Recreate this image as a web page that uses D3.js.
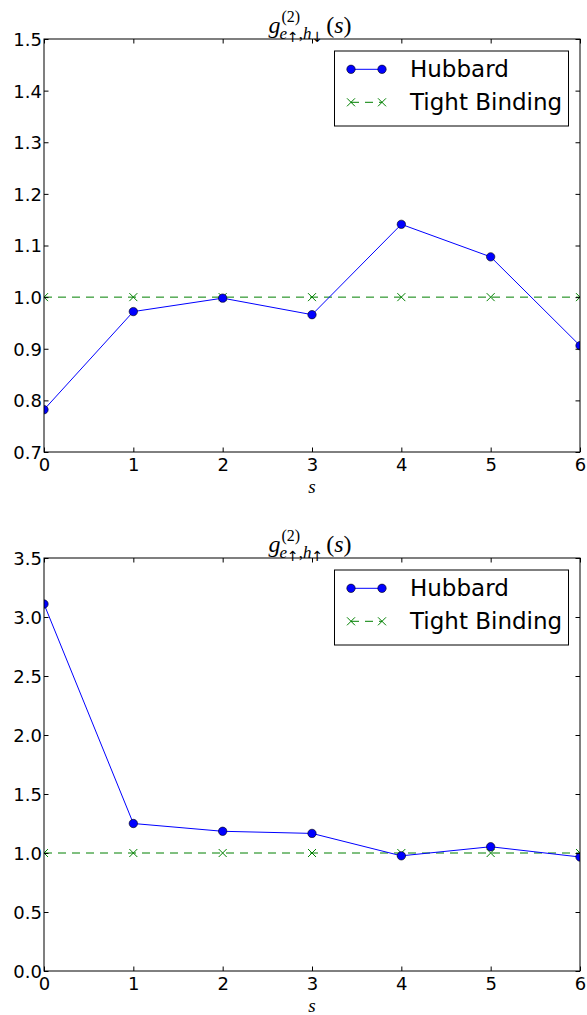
<!DOCTYPE html>
<html>
<head>
<meta charset="utf-8">
<script src="https://cdn.jsdelivr.net/npm/d3@7"></script>
<style>
html,body{margin:0;padding:0;background:#fff;}
svg{display:block;}
</style>
</head>
<body>
<svg id="chart" width="587" height="1015"></svg>
<script>
// ---- data ----
const sValues = [0, 1, 2, 3, 4, 5, 6];
const hubbardUpDown = [0.782, 0.972, 0.998, 0.966, 1.141, 1.078, 0.906];
const tightUpDown = [1, 1, 1, 1, 1, 1, 1];
const hubbardUpUp = [3.11, 1.25, 1.184, 1.166, 0.976, 1.053, 0.966];
const tightUpUp = [1, 1, 1, 1, 1, 1, 1];
const xTicks = [0, 1, 2, 3, 4, 5, 6];
const yTicksTop = [0.7, 0.8, 0.9, 1.0, 1.1, 1.2, 1.3, 1.4, 1.5];
const yTicksBottom = [0.0, 0.5, 1.0, 1.5, 2.0, 2.5, 3.0, 3.5];
const seriesNames = ["Hubbard", "Tight Binding"];

const svg = d3.select("#chart");
const left = 44, right = 580;
const BLUE = "#0000ff", GREEN = "#008000";
const sansFont = "DejaVu Sans, sans-serif";
const serifFont = "Liberation Serif, DejaVu Serif, serif";

const panels = [
  {top: 39, bottom: 452, domain: [0.7, 1.5], ticks: yTicksTop, hub: hubbardUpDown, tb: tightUpDown, arrow2: "\u2193", id: "p1"},
  {top: 558, bottom: 971, domain: [0.0, 3.5], ticks: yTicksBottom, hub: hubbardUpUp, tb: tightUpUp, arrow2: "\u2191", id: "p2"}
];

panels.forEach(p => {
  const x = d3.scaleLinear().domain([0, 6]).range([left, right]);
  const y = d3.scaleLinear().domain(p.domain).range([p.bottom, p.top]);
  const g = svg.append("g");

  g.append("defs").append("clipPath").attr("id", "clip-" + p.id)
    .append("rect").attr("x", left).attr("y", p.top)
    .attr("width", right - left).attr("height", p.bottom - p.top);

  const plot = g.append("g").attr("clip-path", `url(#clip-${p.id})`);

  const tbData = sValues.map((s, i) => [s, p.tb[i]]);
  const hubData = sValues.map((s, i) => [s, p.hub[i]]);
  const line = d3.line().x(d => x(d[0])).y(d => y(d[1]));

  plot.append("path").datum(tbData).attr("d", line)
    .attr("fill", "none").attr("stroke", GREEN).attr("stroke-width", 1)
    .attr("stroke-dasharray", "8,6");
  const xs = 4;
  plot.selectAll(".xm").data(tbData).enter().append("path")
    .attr("d", d => `M${x(d[0]) - xs},${y(d[1]) - xs}L${x(d[0]) + xs},${y(d[1]) + xs}M${x(d[0]) - xs},${y(d[1]) + xs}L${x(d[0]) + xs},${y(d[1]) - xs}`)
    .attr("stroke", GREEN).attr("stroke-width", 1).attr("fill", "none");

  plot.append("path").datum(hubData).attr("d", line)
    .attr("fill", "none").attr("stroke", BLUE).attr("stroke-width", 1);
  plot.selectAll(".cm").data(hubData).enter().append("circle")
    .attr("cx", d => x(d[0])).attr("cy", d => y(d[1])).attr("r", 4.2)
    .attr("fill", BLUE).attr("stroke", "#000").attr("stroke-width", 0.6);

  g.append("rect").attr("x", left).attr("y", p.top)
    .attr("width", right - left).attr("height", p.bottom - p.top)
    .attr("fill", "none").attr("stroke", "#000").attr("stroke-width", 1);

  const tl = 4.5;
  const yl = g.append("g").attr("transform", `translate(${left},0)`)
    .call(d3.axisLeft(y).tickValues(p.ticks).tickSize(-tl).tickPadding(2).tickFormat(d3.format(".1f")));
  const yr = g.append("g").attr("transform", `translate(${right},0)`)
    .call(d3.axisRight(y).tickValues(p.ticks).tickSize(-tl).tickFormat(""));
  const xb = g.append("g").attr("transform", `translate(0,${p.bottom})`)
    .call(d3.axisBottom(x).tickValues(xTicks).tickSize(-tl).tickPadding(6).tickFormat(d3.format("d")));
  const xt = g.append("g").attr("transform", `translate(0,${p.top})`)
    .call(d3.axisTop(x).tickValues(xTicks).tickSize(-tl).tickFormat(""));
  [yl, yr, xb, xt].forEach(a => {
    a.select(".domain").remove();
    a.selectAll("line").attr("stroke", "#000").attr("stroke-width", 1);
    a.selectAll("text").attr("font-family", sansFont).attr("font-size", 18).attr("fill", "#000");
  });
  yl.selectAll("text").attr("x", -2).attr("dy", "0.36em");
  xb.selectAll("text").attr("dy", "0.71em").attr("y", 6);

  g.append("text").attr("x", (left + right) / 2).attr("y", p.bottom + 41)
    .attr("text-anchor", "middle").attr("font-family", serifFont)
    .attr("font-style", "italic").attr("font-size", 19).text("s");

  // title
  const tg = g.append("g");
  const base = p.top - 6;
  const gt = tg.append("text").attr("x", 0).attr("y", base)
    .attr("font-family", serifFont).attr("font-style", "italic").attr("font-size", 24).text("g");
  const gw = gt.node().getComputedTextLength();
  const sup = tg.append("text").attr("x", gw + 1).attr("y", base - 11)
    .attr("font-family", serifFont).attr("font-size", 16).text("(2)");
  const sub = tg.append("text").attr("x", gw - 1).attr("y", base + 6)
    .attr("font-family", serifFont).attr("font-size", 17);
  sub.append("tspan").attr("font-style", "italic").text("e");
  sub.append("tspan").attr("font-family", "DejaVu Sans, sans-serif").attr("font-size", 14).attr("dy", 3).text("\u2191");
  sub.append("tspan").attr("dy", -3).text(",");
  sub.append("tspan").attr("font-style", "italic").text("h");
  sub.append("tspan").attr("font-family", "DejaVu Sans, sans-serif").attr("font-size", 14).attr("dy", 3).text(p.arrow2);
  const supEnd = gw + 1 + sup.node().getComputedTextLength();
  const subEnd = gw - 1 + sub.node().getComputedTextLength();
  const st = tg.append("text").attr("x", Math.max(supEnd, subEnd) + 3).attr("y", base)
    .attr("font-family", serifFont).attr("font-size", 24);
  st.append("tspan").text("(");
  st.append("tspan").attr("font-style", "italic").text("s");
  st.append("tspan").text(")");
  const bb = tg.node().getBBox();
  tg.attr("transform", `translate(${310 - (bb.x + bb.width / 2)},0)`);

  // legend
  const lx = 334.5, ly = p.top + 12, lw = 234, lh = 75;
  const lg = g.append("g");
  lg.append("rect").attr("x", lx).attr("y", ly).attr("width", lw).attr("height", lh)
    .attr("fill", "#fff").attr("stroke", "#000").attr("stroke-width", 1);
  const m1 = 351, m2 = 382;
  const r1 = ly + 18.3, r2 = ly + 51.3;
  lg.append("line").attr("x1", m1).attr("x2", m2).attr("y1", r1).attr("y2", r1)
    .attr("stroke", BLUE).attr("stroke-width", 1);
  [m1, m2].forEach(mx => lg.append("circle").attr("cx", mx).attr("cy", r1).attr("r", 4.2)
    .attr("fill", BLUE).attr("stroke", "#000").attr("stroke-width", 0.6));
  lg.append("line").attr("x1", m1).attr("x2", m2).attr("y1", r2).attr("y2", r2)
    .attr("stroke", GREEN).attr("stroke-width", 1).attr("stroke-dasharray", "8,6");
  [m1, m2].forEach(mx => lg.append("path")
    .attr("d", `M${mx - xs},${r2 - xs}L${mx + xs},${r2 + xs}M${mx - xs},${r2 + xs}L${mx + xs},${r2 - xs}`)
    .attr("stroke", GREEN).attr("stroke-width", 1));
  lg.append("text").attr("x", 410).attr("y", r1 + 8).attr("font-family", sansFont)
    .attr("font-size", 23).text(seriesNames[0]);
  lg.append("text").attr("x", 410).attr("y", r2 + 8).attr("font-family", sansFont)
    .attr("font-size", 23).text(seriesNames[1]);
});
</script>
</body>
</html>
